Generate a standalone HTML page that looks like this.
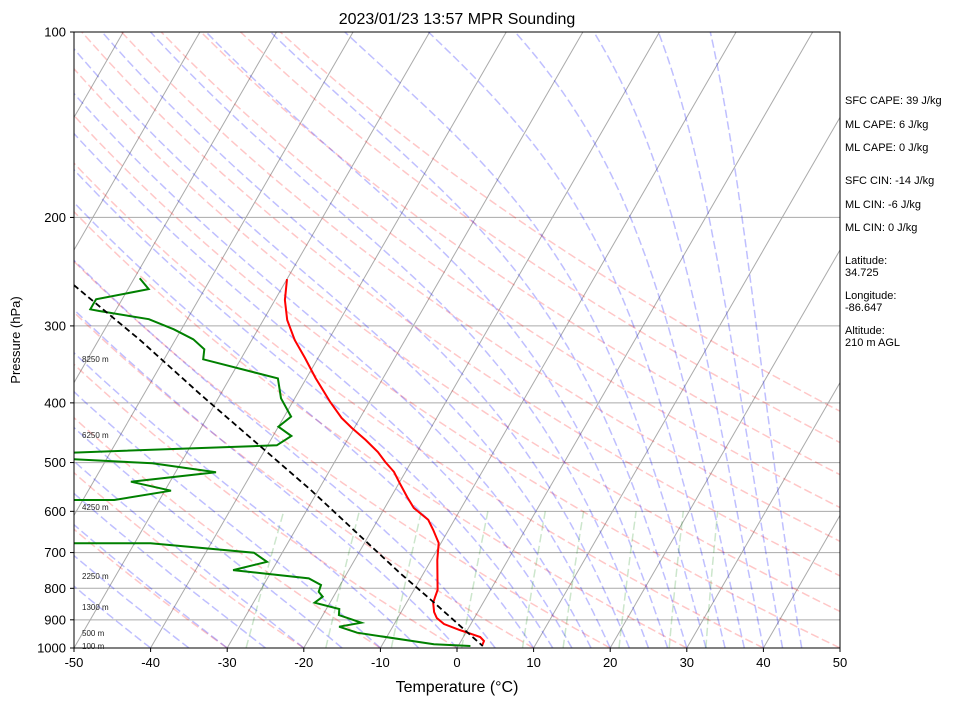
<!DOCTYPE html>
<html><head><meta charset="utf-8"><style>
body{margin:0;background:#fff}
svg{display:block;font-family:"Liberation Sans","DejaVu Sans",sans-serif}
</style></head><body>
<svg id="c" width="953" height="705" viewBox="0 0 953 705">
<defs><clipPath id="pc"><rect x="74" y="32" width="766" height="616"/></clipPath></defs>
<rect x="0" y="0" width="953" height="705" fill="#fff"/>
<g id="bg" clip-path="url(#pc)"></g>
<g id="series" clip-path="url(#pc)"></g>
<rect x="74" y="32" width="766" height="616" fill="none" stroke="#000" stroke-width="1"/>
<g id="axes"></g>
<text x="457" y="24" text-anchor="middle" font-size="16">2023/01/23 13:57 MPR Sounding</text>
<text x="457" y="692" text-anchor="middle" font-size="16">Temperature (°C)</text>
<text x="20" y="340" text-anchor="middle" font-size="13" transform="rotate(-90 20 340)">Pressure (hPa)</text>
<g font-size="8" fill="#222">
<text x="82" y="362">8250 m</text>
<text x="82" y="438">6250 m</text>
<text x="82" y="510">4250 m</text>
<text x="82" y="579">2250 m</text>
<text x="82" y="610">1300 m</text>
<text x="82" y="636">500 m</text>
<text x="82" y="649">100 m</text>
</g>
<g font-size="11">
<text x="845" y="104">SFC CAPE: 39 J/kg</text>
<text x="845" y="128">ML CAPE: 6 J/kg</text>
<text x="845" y="151">ML CAPE: 0 J/kg</text>
<text x="845" y="184">SFC CIN: -14 J/kg</text>
<text x="845" y="208">ML CIN: -6 J/kg</text>
<text x="845" y="231">ML CIN: 0 J/kg</text>
<text x="845" y="264">Latitude:</text>
<text x="845" y="276">34.725</text>
<text x="845" y="299">Longitude:</text>
<text x="845" y="311">-86.647</text>
<text x="845" y="334">Altitude:</text>
<text x="845" y="346">210 m AGL</text>
</g>
</svg>
<script>
const xTicks=[-50,-40,-30,-20,-10,0,10,20,30,40,50];
const yTicks=[100,200,300,400,500,600,700,800,900,1000];
const tempP=[251.8,272.3,293.4,316.2,338.2,364.6,398.7,423.2,439.4,459.5,480.6,498.8,517.7,541.5,568.5,592.4,619.6,643.2,675.3,719.9,805.2,826.5,845.1,874.2,894.0,914.2,935.0,959.7,974.2,992.5];
const tempT=[-50.0,-48.7,-46.9,-44.4,-41.7,-38.8,-35.1,-32.4,-30.3,-27.6,-25.1,-23.4,-21.5,-19.8,-17.9,-16.2,-13.4,-12.0,-10.3,-9.2,-6.9,-6.7,-6.5,-5.7,-4.9,-3.5,-1.0,2.2,3.0,3.1];
const dewP=[251.0,261.4,271.6,281.9,283.7,292.6,303.8,315.4,327.4,339.9,365.0,393.2,421.1,437.2,452.8,468.8,481.9,493.4,501.4,518.6,537.1,555.4,575.0,575.0,676.2,676.2,700.4,724.5,747.3,770.8,790.3,810.4,825.5,844.3,864.3,884.3,909.8,923.4,944.4,986.3,992.5];
const dewT=[-69.3,-67.3,-73.4,-73.4,-72.1,-65.0,-61.0,-57.7,-55.5,-54.9,-43.7,-41.8,-39.1,-40.0,-37.6,-38.8,-65.2,-64.8,-53.7,-44.7,-55.1,-49.2,-55.9,-61.7,-58.4,-47.9,-33.7,-31.3,-35.1,-24.6,-22.5,-22.3,-21.4,-22.0,-18.3,-17.9,-14.4,-17.0,-14.2,-3.3,1.6];
const parcelP=[257.5,316.2,388.3,554.0,755.6,835.9,992.5];
const parcelT=[-77.4,-64.6,-52.5,-31.0,-13.1,-7.0,3.2];
const dryT0=[-30,-20,-10,0,10,20,30,40,50,60,70,80,90,100,110,120];
const moistT0=[-40,-35,-30,-25,-20,-15,-10,-5,0,5,10,12.5,15,17.5,20,22.5,25,27.5,30,32.5,35,37.5,40,42.5,45];
const mixW=[0.0004,0.001,0.002,0.004,0.007,0.01,0.016,0.024,0.032];

const NS='http://www.w3.org/2000/svg';
const Y0=648,H=616,X0=74,SX=7.66,SK=0.5774;
function yP(p){return Y0-H*Math.log10(1000/p);}
function xT(t,p){return X0+(t+50)*SX+(Y0-yP(p))*SK;}
function mk(tag,attrs,parent){const e=document.createElementNS(NS,tag);for(const k in attrs)e.setAttribute(k,attrs[k]);parent.appendChild(e);return e;}
function pathD(ps,ts){return ps.map((p,i)=>(i?'L':'M')+xT(ts[i],p).toFixed(1)+' '+yP(p).toFixed(1)).join('');}
const bg=document.getElementById('bg'),se=document.getElementById('series'),ax=document.getElementById('axes');
const DASH='8.3 3.6';

yTicks.forEach(p=>{const l=mk('line',{x1:74,x2:840,y1:yP(p),y2:yP(p),stroke:'#aaa','stroke-width':1},bg);

});
for(let t=-150;t<=50;t+=10){const l=mk('line',{x1:xT(t,1000),y1:yP(1000),x2:xT(t,100),y2:yP(100),stroke:'#aaa','stroke-width':1},bg);

}
const pl=[];for(let p=1000;p>=100;p-=10)pl.push(p);
dryT0.forEach(t0=>{const th=t0+273.15;const ts=pl.map(p=>th*Math.pow(p/1000,0.2857)-273.15);
const e=mk('path',{d:pathD(pl,ts),fill:'none',stroke:'rgba(255,0,0,0.22)','stroke-width':1.5,'stroke-dasharray':DASH},bg);

});
function es(tc){return 6.112*Math.exp(17.67*tc/(tc+243.5));}
moistT0.forEach(t0=>{let T=t0+273.15;const ps=[],ts=[];const dp=-5;
for(let p=1000;p>=100;p+=dp){ps.push(p);ts.push(T-273.15);
const e=es(T-273.15),rs=0.622*e/(p-e);
const dTdp=(287*T+2.5e6*rs)/(p*(1004+2.5e6*2.5e6*rs*0.622/(287*T*T)));T+=dTdp*dp;}
const e=mk('path',{d:pathD(ps,ts),fill:'none',stroke:'rgba(0,0,255,0.25)','stroke-width':1.5,'stroke-dasharray':DASH},bg);

});
mixW.forEach(w=>{const ps=[],ts=[];for(let p=1000;p>=600;p-=50){const e=w*p/(0.622+w);const l=Math.log(e/6.112);ps.push(p);ts.push(243.5*l/(17.67-l));}
const e=mk('path',{d:pathD(ps,ts),fill:'none',stroke:'rgba(0,128,0,0.2)','stroke-width':1.5,'stroke-dasharray':DASH},bg);

});
const tl=mk('path',{d:pathD(tempP,tempT),fill:'none',stroke:'#f00','stroke-width':2},se);


const dl=mk('path',{d:pathD(dewP,dewT),fill:'none',stroke:'#008000','stroke-width':2},se);


const pp=mk('path',{d:pathD(parcelP,parcelT),fill:'none',stroke:'#000','stroke-width':1.8,'stroke-dasharray':'6 3.5'},se);


xTicks.forEach(t=>{const x=X0+(t+50)*SX;
const l=mk('line',{x1:x,x2:x,y1:648,y2:652,stroke:'#000'},ax);


const tx=mk('text',{x:x,y:667,'text-anchor':'middle','font-size':13},ax);tx.textContent=t;

});
yTicks.forEach(p=>{const y=yP(p);
const l=mk('line',{x1:70,x2:74,y1:y,y2:y,stroke:'#000'},ax);


const tx=mk('text',{x:66,y:y+4.5,'text-anchor':'end','font-size':13},ax);tx.textContent=p;

});
</script>
</body></html>
